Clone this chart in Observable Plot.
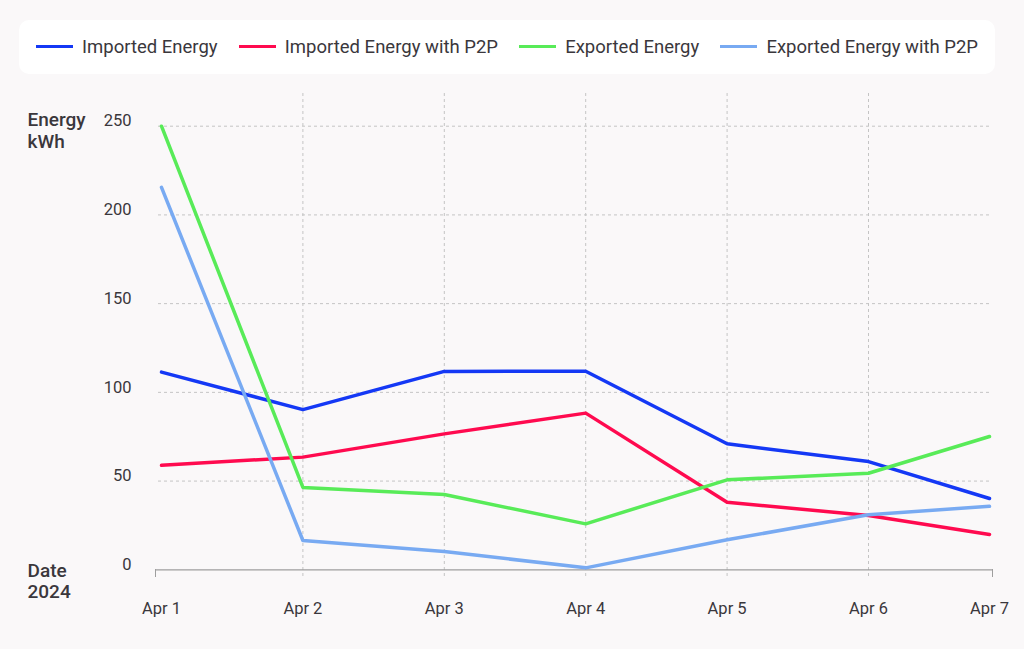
<!DOCTYPE html>
<html><head><meta charset="utf-8">
<script src="https://cdn.jsdelivr.net/npm/d3@7"></script>
<script src="https://cdn.jsdelivr.net/npm/@observablehq/plot@0.6"></script>
<style>
html,body{margin:0;padding:0;background:#faf8f9;}
body{width:1024px;height:649px;position:relative;overflow:hidden;font-family:Roboto,sans-serif;}
#chart{position:absolute;left:0;top:0;}
#legend{position:absolute;left:19px;top:20px;width:976px;height:54px;background:#ffffff;border-radius:10px;display:flex;align-items:center;justify-content:space-between;padding:0 17px;box-sizing:border-box;font-size:18.5px;color:#3a373c;}
.item{display:flex;align-items:center;}
.sw{width:37px;height:3px;margin-right:9px;margin-bottom:2px;}
</style></head><body>
<div id="chart"></div>
<div id="legend"></div>
<script>
const dates = ["2024-04-01","2024-04-02","2024-04-03","2024-04-04","2024-04-05","2024-04-06","2024-04-07"].map(d => new Date(d));
const seriesNames = ["Imported Energy","Imported Energy with P2P","Exported Energy","Exported Energy with P2P"];
const importedEnergy    = [111.4, 90.3, 111.8, 111.9, 71.0, 61.0, 40.2];
const importedEnergyP2P = [58.9, 63.5, 76.6, 88.3, 38.1, 30.6, 19.9];
const exportedEnergy    = [250.0, 46.4, 42.4, 25.9, 50.7, 54.4, 75.1];
const exportedEnergyP2P = [215.5, 16.5, 10.3, 1.1, 16.9, 31.0, 35.8];
const seriesColors = ["#1438f5","#ff0a4f","#58eb58","#78aaf2"];
const yTicks = [0, 50, 100, 150, 200, 250];
const yTitle = "Energy\nkWh";
const xTitle = "Date\n2024";

const allSeries = [importedEnergy, importedEnergyP2P, exportedEnergy, exportedEnergyP2P];
const rows = [];
allSeries.forEach((vals, i) => vals.forEach((v, j) => rows.push({series: seriesNames[i], date: dates[j], value: v})));

const textColor = "#3a373c";
const axisGrey = "#9e9e9e";
const gridGrey = "#c4c4c4";

const chart = Plot.plot({
  width: 1024,
  height: 649,
  marginLeft: 158,
  marginRight: 32,
  marginTop: 93,
  marginBottom: 80,
  style: {background: "transparent", fontFamily: "Roboto, sans-serif", color: textColor},
  x: {type: "utc", domain: [dates[0], dates[5], dates[6]], range: [161, 868, 989]},
  y: {domain: [0, 250], range: [569.3, 125.7]},
  color: {domain: seriesNames, range: seriesColors},
  marks: [
    Plot.gridY(yTicks.slice(1), {stroke: gridGrey, strokeOpacity: 1, strokeDasharray: "3,3"}),
    Plot.gridX(dates.slice(1, 6), {stroke: gridGrey, strokeOpacity: 1, strokeDasharray: "3,3", insetBottom: -8.5}),
    Plot.ruleY([0], {stroke: axisGrey, strokeWidth: 1.2, insetLeft: -3}),
    Plot.axisX([dates[0]], {tickSize: 8, tickFormat: () => "", stroke: axisGrey, dx: -6, label: null}),
    Plot.axisX([dates[6]], {tickSize: 8, tickFormat: () => "", stroke: axisGrey, dx: 3, label: null}),
    Plot.axisX(dates, {tickSize: 0, tickPadding: 33, tickFormat: d3.utcFormat("%b %-d"), fontSize: 16.5, fill: textColor, label: null}),
    Plot.axisY(yTicks, {tickSize: 0, tickPadding: 27, dy: -5, fontSize: 16.5, fill: textColor, label: null}),
    Plot.line(rows, {x: "date", y: "value", stroke: "series", z: "series", strokeWidth: 3.5, strokeLinecap: "round", strokeLinejoin: "round"}),
    Plot.text([yTitle], {frameAnchor: "top-left", dx: -131, dy: 16.5, textAnchor: "start", lineAnchor: "top", fontSize: 19, fontWeight: 500, lineHeight: 1.18, fill: textColor}),
    Plot.text([xTitle], {frameAnchor: "bottom-left", dx: -131, dy: -8, textAnchor: "start", lineAnchor: "top", fontSize: 19, fontWeight: 500, lineHeight: 1.12, fill: textColor})
  ]
});
document.getElementById("chart").appendChild(chart);

const legend = document.getElementById("legend");
seriesNames.forEach((name, i) => {
  const item = document.createElement("div");
  item.className = "item";
  const sw = document.createElement("span");
  sw.className = "sw";
  sw.style.background = seriesColors[i];
  const label = document.createElement("span");
  label.textContent = name;
  item.appendChild(sw);
  item.appendChild(label);
  legend.appendChild(item);
});
</script>
</body></html>
